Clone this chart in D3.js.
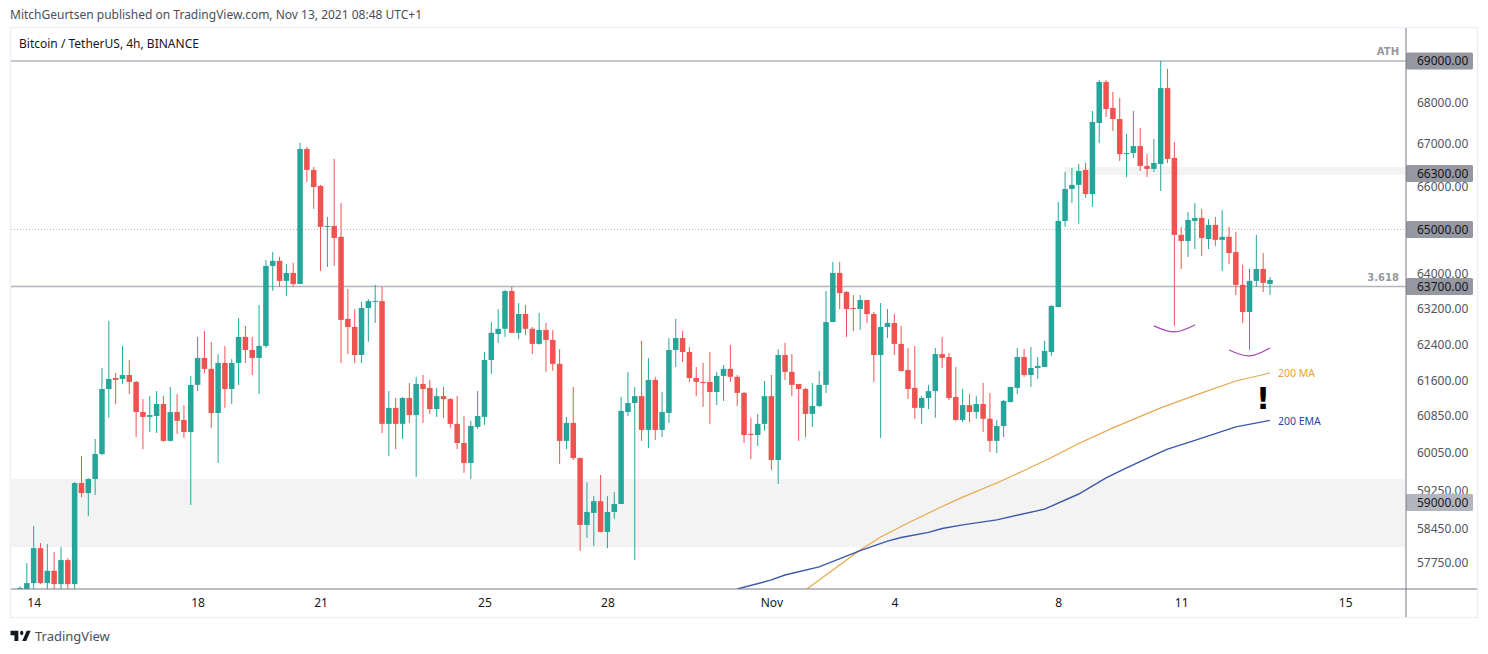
<!DOCTYPE html>
<html>
<head>
<meta charset="utf-8">
<script src="https://cdnjs.cloudflare.com/ajax/libs/d3/7.8.5/d3.min.js"></script>
<style>
  body { margin: 0; background: #fff; }
  text { font-family: "Noto Sans", sans-serif; }
</style>
</head>
<body>
<div id="chart"></div>
<script>
// 4h candles (price in USDT)
const opens = [57200,57200,57340,58055,57340,57590,57320,57810,57320,59410,59200,59495,60025,61425,61665,61645,61730,61580,60925,60820,60840,61100,60305,60925,60755,60495,61515,62105,61865,60905,61995,61425,61995,62570,62280,62105,62370,64165,64280,63825,64005,63755,66880,66386,66010,65060,65080,64830,62970,62790,62170,63215,63350,63370,60670,61015,60670,61230,60860,61535,61450,60990,61270,61205,60670,60260,59835,60605,60820,62060,62635,62750,63595,62660,63080,62750,62415,62725,62503,61975,60305,60690,59940,58535,58785,59030,58390,58805,58970,60925,61120,61270,60540,61623,60540,60905,62280,62545,62235,61665,61580,61580,61360,61710,61865,61690,61340,60455,60430,60670,61270,59898,62170,61800,61535,61425,60885,61055,61515,62900,64005,63575,63215,63190,63393,63080,62170,62790,62880,62415,61842,61450,61015,61230,61380,62190,62125,61250,60755,61075,60925,61100,60780,60305,60625,61140,61450,62125,61730,61885,61905,62235,63235,65195,65940,66035,66386,65820,67500,68490,67860,67595,66760,66785,66950,66480,66410,66525,68340,66670,64875,64735,65195,65265,64780,65105,64760,64830,64480,63735,63125,63825,64095,63755]
const highs = [57280,57750,58510,58160,58140,57975,58075,57850,59430,59985,59515,60345,61885,62926,61775,62370,62060,61600,61205,61270,61380,61270,61470,61315,61075,61710,62570,62700,62460,62190,62370,62080,62990,62815,62570,63280,64300,64485,64370,64210,64235,67025,66930,66455,66035,65290,66645,65610,63640,63190,63350,63415,63735,63690,61380,61230,61250,61555,61690,61730,61623,61450,61470,61230,61270,60840,60735,61380,62235,62900,63190,63620,63690,63325,63280,62790,63105,62880,62725,62300,60820,61470,59950,59430,59135,59580,59135,59220,61250,61800,61470,62480,62105,61690,61360,62545,62970,62700,62345,61905,61995,62235,61800,61950,62390,61730,61360,60800,60885,61600,61730,62300,62435,62190,61535,61450,61555,61820,63595,64255,64255,63595,63505,63505,63393,63125,63325,63190,63080,62815,62325,62370,61270,61515,62325,62570,62215,61905,61425,61315,61270,61555,61340,60755,61185,61470,62325,62300,62345,62125,62480,63280,65635,66340,66430,66525,66550,67790,68535,68535,68245,68100,67240,67790,67380,66760,67120,69000,68805,67050,65060,65405,65610,65475,65240,65290,65450,65060,64945,64190,64095,64875,64460,63915]
const lows = [57080,57040,57100,57320,57120,57060,57080,57120,57160,59115,58720,59160,60005,60800,61100,61535,61315,60390,60130,60495,60475,60290,60290,60455,60370,58950,61380,61775,60585,59835,61015,61100,61515,61995,61730,61315,62325,63600,63690,63485,63690,63750,66105,65475,64050,64140,64165,61995,62190,61995,61995,62460,62880,60475,59985,60130,60345,60690,59540,60690,60885,60820,60800,60585,60130,59625,59495,60560,60650,61755,62435,62570,62660,62525,62615,62190,62400,61800,61820,59815,60130,59898,57995,58265,58095,58380,58055,58660,58970,60840,57810,60305,60150,60325,60390,60690,61905,62015,61580,61270,61035,60670,61075,61165,61580,61055,60260,59920,60195,60520,59687,59390,61623,61270,60305,60390,60605,61035,61340,62900,63190,62570,62700,62725,62880,61580,60370,62545,62170,61800,61205,60780,60670,60990,60800,61885,61185,60735,60710,60710,60780,60495,60065,60045,60390,61140,61315,61690,61470,61645,61905,62150,63235,65060,65610,65130,65730,65520,67025,67645,67310,66600,66220,66670,66360,66220,66340,65890,66550,62815,64095,64370,64550,64390,64550,64620,64050,64210,63505,62880,62280,63690,63575,63505]
const closes = [57240,57340,58055,57340,57590,57320,57810,57320,59410,59200,59495,60025,61425,61645,61623,61730,61580,60925,60820,60860,61100,60305,60925,60735,60495,61515,62105,61865,60905,61995,61425,61995,62570,62280,62105,62370,64165,64280,63825,64005,63755,66880,66386,65985,65060,65080,64805,62948,62790,62170,63215,63370,63370,60670,61015,60670,61230,60860,61535,61425,60990,61270,61205,60670,60260,59835,60625,60840,62060,62660,62750,63595,62660,63080,62750,62415,62725,62503,61975,60305,60690,59940,58535,58805,59030,58390,58805,58970,60950,61120,61270,60540,61623,60540,60925,62280,62545,62235,61665,61580,61555,61360,61710,61865,61690,61340,60430,60430,60670,61270,59898,62170,61800,61515,61425,60885,61055,61515,62900,64005,63550,63190,63190,63393,63080,62170,62790,62880,62415,61820,61425,61015,61230,61380,62190,62105,61230,60755,61075,60925,61100,60780,60305,60625,61165,61470,62125,61730,61885,61930,62260,63260,65195,65940,66035,66360,65820,67525,68490,67835,67595,66760,66785,66950,66480,66410,66550,68340,66645,64875,64735,65220,65265,64805,65105,64760,64830,64460,63735,63125,63825,64095,63780,63847]

// moving averages, sampled along the candle index
const maIndex = [115,123,126,130,135,138,143,147,151,155,160,167,172,178,183]
const maValues = [57200,58015,58285,58575,58920,59115,59410,59675,59950,60250,60585,61015,61285,61600,61775]
const emaIndex = [105,110,112,117,123,127,129,133,135,138,143,150,155,159,162,167,168,172,178,183]
const emaValues = [57220,57404,57505,57670,58005,58200,58275,58380,58460,58535,58640,58865,59180,59520,59730,60065,60130,60315,60605,60745]

// purple swing low arcs
const arcIndex = [[166,169,172],[177,180,183]]
const arcValues = [[62815,62680,62835],[62280,62150,62325]]

const priceTicks = [68000,67000,66000,64000,63200,62400,61600,60850,60050,59250,58450,57750]
const priceTags = [69000,66300,65000,63700,59000]
const dayIndex = [2,26,44,68,86,110,128,152,170,194]
const dayLabels = ['14','18','21','25','28','Nov','4','8','11','15']

const w = 1488
const h = 654
const plotLeft = 11
const plotTop = 28
const plotBottom = 589
const axisX = 1406
const frameRight = 1477
const frameBottom = 617

const up = '#26a69a'
const down = '#ef5350'
const levelGrey = '#b2b5be'

const x = d3.scaleLinear().domain([0, 183]).range([20, 1270])
const y = d3.scaleLog().domain([57750, 69000]).range([563, 61])

const svg = d3.select('#chart')
  .append('svg')
  .attr('width', w)
  .attr('height', h)
  .style('display', 'block')

svg.append('clipPath')
  .attr('id', 'plot')
  .append('rect')
  .attr('x', plotLeft)
  .attr('y', plotTop)
  .attr('width', axisX - plotLeft)
  .attr('height', plotBottom - plotTop)

svg.append('text')
  .attr('x', 10)
  .attr('y', 19)
  .attr('font-size', 12)
  .attr('fill', '#4a4e59')
  .text('MitchGeurtsen published on TradingView.com, Nov 13, 2021 08:48 UTC+1')

// frame
svg.append('rect')
  .attr('x', 10.5)
  .attr('y', 27.5)
  .attr('width', frameRight - 10)
  .attr('height', frameBottom - 27)
  .attr('fill', 'none')
  .attr('stroke', '#eef0f6')
  .attr('stroke-width', 1.5)

svg.append('text')
  .attr('x', 19)
  .attr('y', 48)
  .attr('font-size', 12)
  .attr('fill', '#131722')
  .text('Bitcoin / TetherUS, 4h, BINANCE')

const plot = svg.append('g').attr('clip-path', 'url(#plot)')

// grey zones
plot.append('rect')
  .attr('x', plotLeft)
  .attr('y', y(59495))
  .attr('width', axisX - plotLeft - 1)
  .attr('height', y(58075) - y(59495))
  .attr('fill', '#f3f3f4')

plot.append('rect')
  .attr('x', x(153))
  .attr('y', y(66455))
  .attr('width', axisX - x(153) - 1)
  .attr('height', y(66268) - y(66455))
  .attr('fill', '#f3f3f4')

// horizontal levels
plot.append('line')
  .attr('x1', plotLeft).attr('x2', axisX)
  .attr('y1', y(69000)).attr('y2', y(69000))
  .attr('stroke', levelGrey)
  .attr('stroke-width', 1.5)

plot.append('line')
  .attr('x1', plotLeft).attr('x2', axisX)
  .attr('y1', y(63700)).attr('y2', y(63700))
  .attr('stroke', levelGrey)
  .attr('stroke-width', 1.5)

plot.append('line')
  .attr('x1', plotLeft).attr('x2', axisX)
  .attr('y1', y(65000)).attr('y2', y(65000))
  .attr('stroke', levelGrey)
  .attr('stroke-width', 1)
  .attr('stroke-dasharray', '1 2')

// candles
const candleData = opens.map((o, i) => ({ i: i, o: o, h: highs[i], l: lows[i], c: closes[i] }))
const colour = d => d.c >= d.o ? up : down

plot.selectAll('.wick')
  .data(candleData)
  .enter()
  .append('line')
  .attr('class', 'wick')
  .attr('x1', d => x(d.i))
  .attr('x2', d => x(d.i))
  .attr('y1', d => y(d.h))
  .attr('y2', d => y(d.l))
  .attr('stroke', colour)
  .attr('stroke-width', 1)

plot.selectAll('.body')
  .data(candleData)
  .enter()
  .append('rect')
  .attr('class', 'body')
  .attr('x', d => x(d.i) - 2.75)
  .attr('y', d => Math.min(y(d.o), y(d.c)))
  .attr('width', 5.5)
  .attr('height', d => Math.max(1, Math.abs(y(d.o) - y(d.c))))
  .attr('fill', colour)

// 200 MA and 200 EMA
const avgLine = d3.line().x(d => x(d[0])).y(d => y(d[1]))

plot.append('path')
  .attr('d', avgLine(d3.zip(maIndex, maValues)))
  .attr('fill', 'none')
  .attr('stroke', '#e8a64c')
  .attr('stroke-width', 1.2)

plot.append('path')
  .attr('d', avgLine(d3.zip(emaIndex, emaValues)))
  .attr('fill', 'none')
  .attr('stroke', '#3d57ad')
  .attr('stroke-width', 1.4)

const arcLine = d3.line().curve(d3.curveNatural).x(d => x(d[0])).y(d => y(d[1]))

arcIndex.forEach((idx, k) => {
  plot.append('path')
    .attr('d', arcLine(d3.zip(idx, arcValues[k])))
    .attr('fill', 'none')
    .attr('stroke', '#ab47bc')
    .attr('stroke-width', 1.3)
})

// drawing labels
svg.append('text')
  .attr('x', 1399)
  .attr('y', y(69000) - 6)
  .attr('text-anchor', 'end')
  .attr('font-size', 10)
  .attr('font-weight', 'bold')
  .attr('fill', '#9598a1')
  .style('font-family', 'DejaVu Sans')
  .text('ATH')

svg.append('text')
  .attr('x', 1399)
  .attr('y', y(63700) - 5)
  .attr('text-anchor', 'end')
  .attr('font-size', 10)
  .attr('font-weight', 'bold')
  .attr('fill', '#9598a1')
  .style('font-family', 'DejaVu Sans')
  .text('3.618')

svg.append('text')
  .attr('x', 1278)
  .attr('y', 377)
  .attr('font-size', 10.5)
  .attr('fill', '#e8a33d')
  .text('200 MA')

svg.append('text')
  .attr('x', 1278)
  .attr('y', 425)
  .attr('font-size', 10.5)
  .attr('fill', '#2a45a8')
  .text('200 EMA')

svg.append('text')
  .attr('x', 1263)
  .attr('y', 409)
  .attr('text-anchor', 'middle')
  .attr('font-size', 31)
  .attr('font-weight', 'bold')
  .attr('fill', '#000')
  .style('font-family', 'DejaVu Sans')
  .text('!')

// price axis
const yAxis = d3.axisRight(y)
  .tickValues(priceTicks)
  .tickFormat(d3.format('.2f'))
  .tickSize(0)
  .tickPadding(11)

const yG = svg.append('g')
  .attr('transform', `translate(${axisX}, 0)`)
  .call(yAxis)

yG.select('.domain').remove()
yG.selectAll('text')
  .attr('font-size', 12)
  .attr('fill', '#50535e')
  .style('font-family', '"Noto Sans", sans-serif')

// tagged price levels
const tags = svg.selectAll('.tag')
  .data(priceTags)
  .enter()
  .append('g')
  .attr('class', 'tag')
  .attr('transform', d => `translate(${axisX}, ${y(d)})`)

tags.append('rect')
  .attr('x', 0)
  .attr('y', -8.5)
  .attr('width', 67)
  .attr('height', 17)
  .attr('rx', 1.5)
  .attr('fill', d => d === 59000 ? '#b2b5be' : '#9598a1')

tags.append('text')
  .attr('x', 11)
  .attr('y', 4.3)
  .attr('font-size', 12)
  .attr('fill', '#131722')
  .text(d => d3.format('.2f')(d))

// time axis
const xAxis = d3.axisBottom(x)
  .tickValues(dayIndex)
  .tickFormat((d, i) => dayLabels[i])
  .tickSize(0)
  .tickPadding(9)

const xG = svg.append('g')
  .attr('transform', `translate(0, ${plotBottom})`)
  .call(xAxis)

xG.select('.domain').remove()
xG.selectAll('text')
  .attr('font-size', 12)
  .attr('fill', '#131722')
  .style('font-family', '"Noto Sans", sans-serif')

svg.append('line')
  .attr('x1', plotLeft).attr('x2', frameRight)
  .attr('y1', plotBottom).attr('y2', plotBottom)
  .attr('stroke', '#787b86')

svg.append('line')
  .attr('x1', axisX).attr('x2', axisX)
  .attr('y1', plotTop).attr('y2', frameBottom)
  .attr('stroke', '#787b86')

// logo and footer
const logo = svg.append('g')
  .attr('transform', 'translate(10.5, 626.5) scale(.56, .72)')
  .attr('fill', '#131722')

logo.append('path').attr('d', 'M14 6H0v6h7v8h7z')
logo.append('circle').attr('cx', 20).attr('cy', 9).attr('r', 3)
logo.append('path').attr('d', 'M28 20h-7l8-14h7z')

svg.append('text')
  .attr('x', 35)
  .attr('y', 641)
  .attr('font-size', 13)
  .attr('fill', '#4a4e59')
  .text('TradingView')
</script>
</body>
</html>
